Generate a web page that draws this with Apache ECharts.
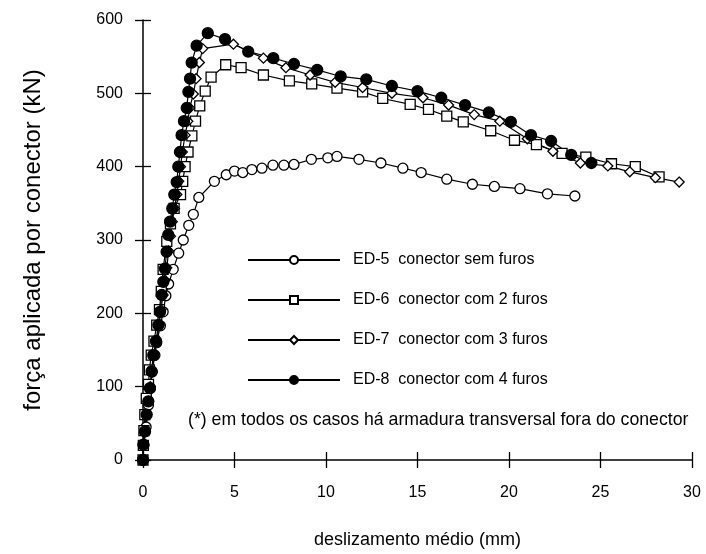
<!DOCTYPE html>
<html>
<head>
<meta charset="utf-8">
<script src="https://cdn.jsdelivr.net/npm/echarts@6/dist/echarts.min.js"></script>
<style>
html,body{margin:0;padding:0;background:#fff;}
#chart{width:706px;height:554px;}
</style>
</head>
<body>
<div id="chart"></div>
<script>
var seriesNames = ['ED-5  conector sem furos','ED-6  conector com 2 furos','ED-7  conector com 3 furos','ED-8  conector com 4 furos'];
var xTicks = [0,5,10,15,20,25,30];
var yTicks = [0,100,200,300,400,500,600];
var footnote = '(*) em todos os casos há armadura transversal fora do conector';

var ed5 = [[0,0],[0.05,20],[0.17,45],[0.3,75],[0.4,98],[0.5,120],[0.65,143],[0.75,160],[0.95,183],[1.1,202],[1.25,224],[1.4,240],[1.65,260],[1.95,282],[2.2,300],[2.5,320],[2.75,335],[3.05,358],[3.9,380],[4.55,389],[5.0,394],[5.45,392],[5.95,396],[6.5,398],[7.1,402],[7.7,402],[8.25,403],[9.2,410],[10.1,412],[10.6,414],[11.8,410],[13.0,405],[14.2,398],[15.2,392],[16.6,383],[18.0,376],[19.2,373],[20.6,370],[22.1,363],[23.6,360]];
var ed6 = [[0,0],[0.02,20],[0.05,40],[0.1,62],[0.18,84],[0.3,103],[0.35,123],[0.45,143],[0.6,162],[0.75,184],[0.9,205],[1.0,230],[1.1,260],[1.3,298],[1.5,322],[1.7,343],[2.05,362],[2.17,380],[2.3,400],[2.46,420],[2.67,442],[2.87,462],[3.1,483],[3.4,503],[3.72,522],[4.52,539],[5.36,535],[6.58,525],[8.0,517],[9.22,513],[10.6,507],[12.0,502],[13.1,493],[14.6,485],[15.6,478],[16.6,469],[17.5,461],[19.0,449],[20.3,436],[21.5,430],[22.9,418],[24.2,413],[25.6,404],[26.9,400],[28.2,386]];
var ed7 = [[0,0],[0.02,20],[0.1,40],[0.2,62],[0.3,80],[0.4,100],[0.5,120],[0.6,143],[0.75,162],[0.88,184],[0.98,205],[1.1,225],[1.2,245],[1.3,262],[1.4,285],[1.5,305],[1.6,325],[1.72,343],[1.85,362],[1.95,380],[2.05,400],[2.15,420],[2.3,443],[2.45,462],[2.55,480],[2.75,499],[2.9,520],[3.08,542],[3.26,561],[4.94,567],[6.58,548],[7.81,535],[9.13,525],[10.5,515],[12.0,508],[13.6,500],[15.3,494],[16.7,484],[18.1,471],[19.5,462],[21.0,438],[22.4,421],[23.9,405],[25.4,401],[26.6,393],[28.0,385],[29.3,379]];
var ed8 = [[0,0],[0.02,21],[0.11,39],[0.2,62],[0.29,80],[0.38,98],[0.47,121],[0.56,143],[0.71,162],[0.84,184],[0.93,202],[1.02,225],[1.11,243],[1.2,261],[1.29,284],[1.38,307],[1.48,325],[1.6,343],[1.71,362],[1.84,379],[1.93,400],[2.02,420],[2.11,443],[2.24,462],[2.39,480],[2.48,502],[2.57,520],[2.66,542],[2.93,565],[3.54,582],[4.48,574],[5.75,557],[7.12,548],[8.25,540],[9.52,532],[10.8,523],[12.2,519],[13.6,510],[15.0,503],[16.3,494],[17.6,484],[18.9,474],[20.1,461],[21.2,443],[22.3,435],[23.4,416],[24.5,405]];

var FONT = '"Liberation Sans", Arial, sans-serif';
var chart = echarts.init(document.getElementById('chart'), null, {renderer:'canvas'});

function mk(name, data, symbol, size, fill) {
  return {
    name: name, type: 'line', data: data, symbol: symbol, symbolSize: size,
    showAllSymbol: true, animation: false,
    lineStyle: {color: '#000', width: 1.2},
    itemStyle: {color: fill, borderColor: '#000', borderWidth: 1.3},
    emphasis: {disabled: true}
  };
}

var axisCommon = {
  type: 'value', min: 0,
  axisLine: {show: true, lineStyle: {color: '#000', width: 1.5}},
  splitLine: {show: false}
};

var option = {
  backgroundColor: '#fff',
  animation: false,
  grid: {left: 143, right: 14, top: 20, bottom: 92, containLabel: false},
  xAxis: [
    Object.assign({}, axisCommon, {
      max: 30, interval: 5, position: 'bottom',
      axisTick: {show: true, inside: false, length: 8, lineStyle: {color: '#000', width: 1.3}},
      axisLabel: {color: '#000', fontFamily: FONT, fontSize: 16, margin: 25,
        formatter: function(v){ return xTicks.indexOf(v) >= 0 ? String(v) : ''; }},
      name: 'deslizamento médio (mm)', nameLocation: 'middle', nameGap: 71,
      nameTextStyle: {color: '#000', fontFamily: FONT, fontSize: 18}
    }),
    Object.assign({}, axisCommon, {
      max: 30, interval: 5, position: 'bottom',
      axisLine: {show: false},
      axisTick: {show: true, inside: true, length: 8, lineStyle: {color: '#000', width: 1.3}},
      axisLabel: {show: false}
    })
  ],
  yAxis: [
    Object.assign({}, axisCommon, {
      max: 600, interval: 100, position: 'left',
      axisTick: {show: true, inside: false, length: 8, lineStyle: {color: '#000', width: 1.3}},
      axisLabel: {color: '#000', fontFamily: FONT, fontSize: 16, margin: 20,
        formatter: function(v){ return yTicks.indexOf(v) >= 0 ? String(v) : ''; }},
      name: 'força aplicada por conector (kN)', nameLocation: 'middle', nameGap: 98,
      nameTextStyle: {color: '#000', fontFamily: FONT, fontSize: 24}
    }),
    Object.assign({}, axisCommon, {
      max: 600, interval: 100, position: 'left',
      axisLine: {show: false},
      axisTick: {show: true, inside: true, length: 8, lineStyle: {color: '#000', width: 1.3}},
      axisLabel: {show: false}
    })
  ],
  legend: {
    orient: 'vertical', left: 242, top: 245,
    itemWidth: 92, itemHeight: 10, itemGap: 20,
    data: seriesNames,
    textStyle: {color: '#000', fontFamily: FONT, fontSize: 16, lineHeight: 20, padding: [0,0,0,8]},
    selectedMode: false
  },
  graphic: [{
    type: 'text', left: 188, top: 411,
    style: {text: footnote, fill: '#000', font: '17.7px "Liberation Sans", Arial, sans-serif'}
  }],
  series: [
    mk(seriesNames[0], ed5, 'circle', 10, '#fff'),
    mk(seriesNames[1], ed6, 'rect', 10, '#fff'),
    mk(seriesNames[2], ed7, 'diamond', 10, '#fff'),
    mk(seriesNames[3], ed8, 'circle', 11, '#000')
  ]
};
chart.setOption(option);
</script>
</body>
</html>
